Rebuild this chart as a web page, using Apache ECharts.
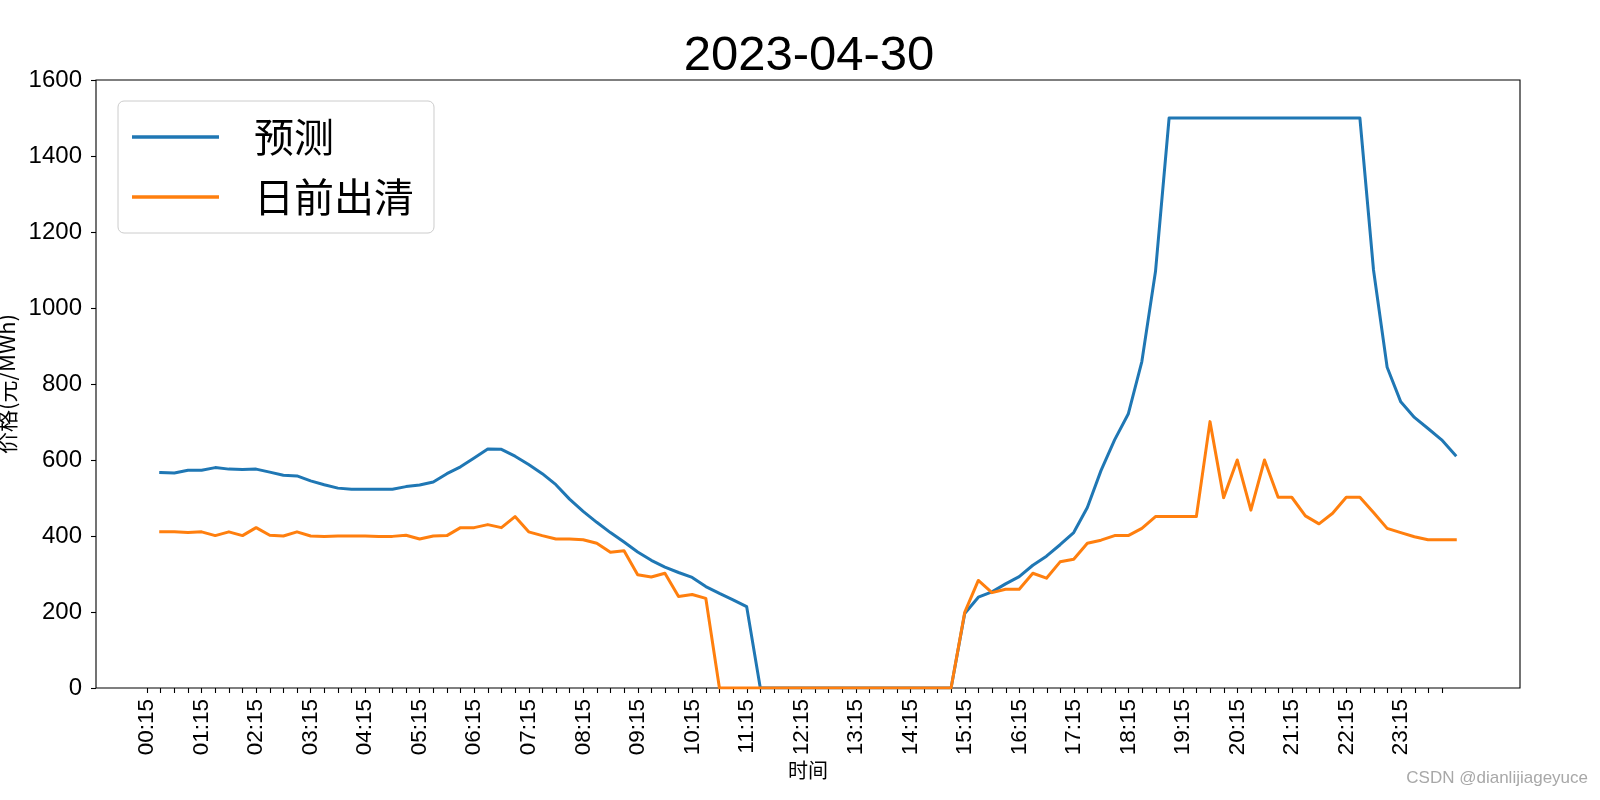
<!DOCTYPE html>
<html>
<head>
<meta charset="utf-8">
<script src="https://cdn.jsdelivr.net/npm/echarts@6/dist/echarts.min.js"></script>
<style>
html,body{margin:0;padding:0;background:#fff;}
#chart{width:1600px;height:800px;}
</style>
</head>
<body>
<div id="chart"></div>
<script>
// Tick labels: one every 4 quarter-hour ticks
const tickLabels = ['00:15','01:15','02:15','03:15','04:15','05:15','06:15','07:15',
  '08:15','09:15','10:15','11:15','12:15','13:15','14:15','15:15',
  '16:15','17:15','18:15','19:15','20:15','21:15','22:15','23:15'];

const seriesNames = ['预测', '日前出清'];

// 预测 (forecast), 96 quarter-hour points
const pred = [
  567,566,573,573,580,576,575,576,568,560,558,545,535,526,523,523,
  523,523,530,534,542,564,582,605,629,628,610,588,564,535,497,465,
  436,409,384,358,336,318,304,291,267,249,232,214,0,0,0,0,
  0,0,0,0,0,0,0,0,0,0,0,196,239,253,274,293,
  323,347,377,409,475,572,653,721,859,1096,1500,1500,1500,1500,1500,1500,
  1500,1500,1500,1500,1500,1500,1500,1500,1500,1100,844,753,712,683,653,613
];

// 日前出清 (day-ahead clearing), 96 quarter-hour points
const dayAhead = [
  411,411,409,411,401,411,401,422,402,400,411,400,399,400,400,400,
  399,399,402,392,400,401,422,422,430,422,451,411,401,392,392,390,
  381,357,361,298,292,302,241,246,236,0,0,0,0,0,0,0,
  0,0,0,0,0,0,0,0,0,0,0,199,283,251,260,260,
  302,289,332,339,381,389,401,401,420,451,451,451,451,701,501,600,
  468,600,502,502,453,432,460,502,502,462,420,409,398,390,390,390
];

const chart = echarts.init(document.getElementById('chart'), null, {renderer:'canvas'});
const numFont = 'Liberation Sans';
const cjkFont = "'Noto Sans CJK SC', sans-serif";

const option = {
  animation: false,
  backgroundColor: '#fff',
  title: {
    text: '2023-04-30',
    left: 804,
    textAlign: 'center',
    top: 27,
    textStyle: {fontSize: 49, fontWeight: 'normal', color: '#000', fontFamily: numFont}
  },
  legend: {
    orient: 'vertical',
    left: 118,
    top: 101,
    padding: [6, 20, 6, 14],
    itemGap: 0,
    itemWidth: 87,
    itemHeight: 3.5,
    icon: 'rect',
    backgroundColor: '#fff',
    borderColor: '#cccccc',
    borderWidth: 1,
    borderRadius: 6,
    textStyle: {fontSize: 40, lineHeight: 60, padding: [0, 0, 0, 30], fontFamily: cjkFont, color: '#000'},
    data: seriesNames
  },
  grid: [
    {left: 96, right: 80, top: 80, bottom: 112, show: true, borderColor: '#000', borderWidth: 1.1,
     backgroundColor: 'transparent', containLabel: false, outerBoundsMode: 'none'},
    {left: 147.1, right: 157.9, top: 80, bottom: 112, containLabel: false, outerBoundsMode: 'none'}
  ],
  xAxis: [
    {
      gridIndex: 0, type: 'value', min: -3.75, max: 100.75, position: 'bottom',
      axisLine: {show: false, onZero: false}, axisTick: {show: false}, axisLabel: {show: false}, splitLine: {show: false},
      name: '时间', nameLocation: 'middle', nameGap: 72,
      nameTextStyle: {fontSize: 20, color: '#000', fontFamily: cjkFont}
    },
    {
      gridIndex: 1, type: 'value', min: 0, max: 95, interval: 1, position: 'bottom',
      axisLine: {show: false, onZero: false},
      axisTick: {show: true, length: 5, lineStyle: {color: '#000', width: 1.1}},
      axisLabel: {
        rotate: 90, fontSize: 22.5, margin: 11, color: '#000', fontFamily: numFont,
        formatter: function (v) { const i = Math.round(v); return (i % 4 === 0) ? tickLabels[i / 4] : ''; }
      },
      splitLine: {show: false}
    }
  ],
  yAxis: [
    {
      gridIndex: 0, type: 'value', min: 0, max: 1600, interval: 200, position: 'left',
      axisLine: {show: false, onZero: false},
      axisTick: {show: true, length: 5, lineStyle: {color: '#000', width: 1.1}},
      axisLabel: {fontSize: 24, margin: 14, color: '#000', fontFamily: numFont,
        formatter: function (v) { return String(v); }},
      splitLine: {show: false},
      name: '价格(元/MWh)', nameLocation: 'middle', nameGap: 70,
      nameTextStyle: {fontSize: 22, color: '#000', fontFamily: cjkFont}
    },
    {gridIndex: 1, type: 'value', min: 0, max: 1, show: false}
  ],
  series: [
    {
      name: seriesNames[0], type: 'line', xAxisIndex: 0, yAxisIndex: 0,
      data: pred.map((v, k) => [k + 1, v]),
      showSymbol: false, symbol: 'none',
      lineStyle: {color: '#1f77b4', width: 3, join: 'round', cap: 'square'},
      itemStyle: {color: '#1f77b4'}
    },
    {
      name: seriesNames[1], type: 'line', xAxisIndex: 0, yAxisIndex: 0,
      data: dayAhead.map((v, k) => [k + 1, v]),
      showSymbol: false, symbol: 'none',
      lineStyle: {color: '#ff7f0e', width: 3, join: 'round', cap: 'square'},
      itemStyle: {color: '#ff7f0e'}
    }
  ],
  graphic: [
    {
      type: 'text', right: 12, top: 770,
      style: {text: 'CSDN @dianlijiageyuce', fontSize: 17, fill: '#a8a8a8', fontFamily: "'Liberation Sans Narrow', 'Liberation Sans', sans-serif"}
    }
  ]
};
chart.setOption(option);
</script>
</body>
</html>
